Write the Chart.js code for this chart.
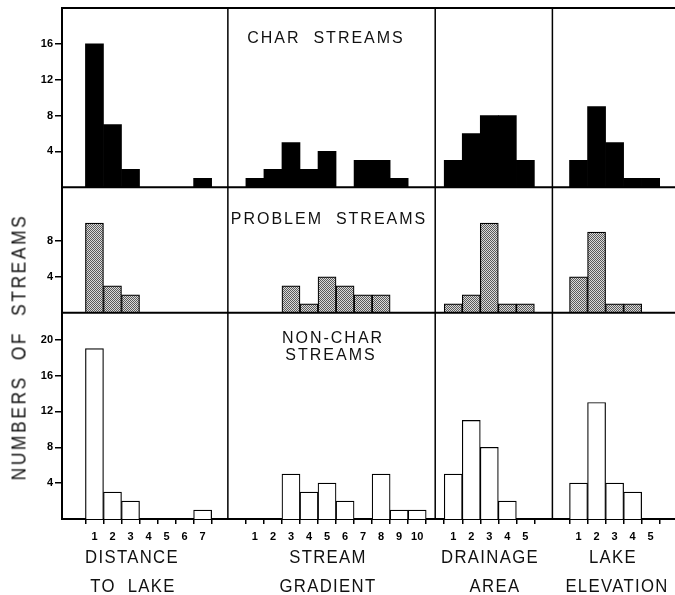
<!DOCTYPE html>
<html>
<head>
<meta charset="utf-8">
<script src="https://cdn.jsdelivr.net/npm/chart.js@4.4.1/dist/chart.umd.min.js"></script>
<style>
    html, body { margin: 0; padding: 0; background: #fff; }
    #wrap { position: relative; width: 675px; height: 595px; }
    #myChart { position: absolute; left: 0; top: 0; }
    .lbl {
        position: absolute;
        font-family: "Liberation Sans", Arial, sans-serif;
        color: #111;
        white-space: pre;
        transform: translate(-50%, -50%);
    }
    .panel { font-size: 16px; letter-spacing: 2px; }
    .title { font-size: 19px; letter-spacing: 1.5px; transform: translate(-50%, -50%) scaleX(0.88); }
    .ytitle { font-size: 20px; letter-spacing: 3px; transform: translate(-50%, -50%) rotate(-90deg) scaleX(0.87); }
</style>
</head>
<body>
<div id="wrap">
    <canvas id="myChart" width="675" height="595"></canvas>

    <div class="lbl panel" style="left:326px; top:38px;">CHAR  STREAMS</div>
    <div class="lbl panel" style="left:329px; top:219px;">PROBLEM  STREAMS</div>
    <div class="lbl panel" style="left:333px; top:338px;">NON-CHAR</div>
    <div class="lbl panel" style="left:331px; top:355px;">STREAMS</div>

    <div class="lbl title" style="left:132px; top:557px;">DISTANCE</div>
    <div class="lbl title" style="left:133px; top:586px;">TO  LAKE</div>
    <div class="lbl title" style="left:328px; top:557px;">STREAM</div>
    <div class="lbl title" style="left:328px; top:586px;">GRADIENT</div>
    <div class="lbl title" style="left:490px; top:557px;">DRAINAGE</div>
    <div class="lbl title" style="left:495px; top:586px;">AREA</div>
    <div class="lbl title" style="left:613px; top:557px;">LAKE</div>
    <div class="lbl title" style="left:617px; top:586px;">ELEVATION</div>

    <div class="lbl ytitle" style="left:19px; top:347px;">NUMBERS  OF  STREAMS</div>
</div>

<script>
// classes on the x axis (one list per column)
var distanceTicks = [1, 2, 3, 4, 5, 6, 7];
var gradientTicks = [1, 2, 3, 4, 5, 6, 7, 8, 9, 10];
var drainageTicks = [1, 2, 3, 4, 5];
var elevationTicks = [1, 2, 3, 4, 5];

// char streams
var charDistance = [16, 7, 2, 0, 0, 0, 1];
var charGradient = [1, 2, 5, 2, 4, 0, 3, 3, 1, 0];
var charDrainage = [3, 6, 8, 8, 3];
var charElevation = [3, 9, 5, 1, 1];

// problem streams
var problemDistance = [10, 3, 2, 0, 0, 0, 0];
var problemGradient = [0, 0, 3, 1, 4, 3, 2, 2, 0, 0];
var problemDrainage = [1, 2, 10, 1, 1];
var problemElevation = [4, 9, 1, 1, 0];

// non-char streams
var nonCharDistance = [19, 3, 2, 0, 0, 0, 1];
var nonCharGradient = [0, 0, 5, 3, 4, 2, 0, 5, 1, 1];
var nonCharDrainage = [5, 11, 8, 2, 0];
var nonCharElevation = [4, 13, 4, 3, 0];

// y tick labels per row
var charYTicks = [4, 8, 12, 16];
var problemYTicks = [4, 8];
var nonCharYTicks = [4, 8, 12, 16, 20];

// axis ranges
var colRanges = [[-0.8, 8.4], [-0.5, 11], [0, 6.5], [-0.45, 6.35]];
var rowMax = [20, 14, 23];

var colTicks = [distanceTicks, gradientTicks, drainageTicks, elevationTicks];
var rowTicks = [charYTicks, problemYTicks, nonCharYTicks];
var rows = [
    [charDistance, charGradient, charDrainage, charElevation],
    [problemDistance, problemGradient, problemDrainage, problemElevation],
    [nonCharDistance, nonCharGradient, nonCharDrainage, nonCharElevation]
];
var rowNames = ['Char streams', 'Problem streams', 'Non-char streams'];
var colNames = ['Distance to lake', 'Stream gradient', 'Drainage area', 'Lake elevation'];

// stippled fill for problem streams
var pc = document.createElement('canvas');
pc.width = 2; pc.height = 2;
var pctx = pc.getContext('2d');
pctx.fillStyle = '#dadada';
pctx.fillRect(0, 0, 2, 2);
pctx.fillStyle = '#5a5a5a';
pctx.fillRect(0, 0, 1, 1);
pctx.fillRect(1, 1, 1, 1);
var stipple = document.getElementById('myChart').getContext('2d').createPattern(pc, 'repeat');

var rowFill = ['#000', stipple, '#fff'];
var rowBorder = [0, 1.2, 1.2];

var datasets = [];
rows.forEach(function (row, r) {
    row.forEach(function (vals, c) {
        datasets.push({
            label: rowNames[r] + ' - ' + colNames[c],
            data: vals.map(function (v, i) { return { x: colTicks[c][i], y: v }; }),
            xAxisID: 'x' + c,
            yAxisID: 'y' + r,
            backgroundColor: rowFill[r],
            borderColor: '#000',
            borderWidth: rowBorder[r],
            barPercentage: 1,
            categoryPercentage: 1,
            grouped: false
        });
    });
});

var scales = {};
colRanges.forEach(function (rng, c) {
    scales['x' + c] = {
        type: 'linear',
        position: 'bottom',
        stack: 'cols',
        stackWeight: rng[1] - rng[0],
        min: rng[0],
        max: rng[1],
        offset: false,
        afterBuildTicks: function (s) { s.ticks = colTicks[c].map(function (v) { return { value: v }; }); },
        afterFit: function (s) { s.height = 76; s.paddingLeft = 0; s.paddingRight = 0; },
        grid: { offset: true, drawOnChartArea: false, tickLength: 5, color: '#000', lineWidth: 1.5 },
        border: { color: '#000', width: 2 },
        ticks: { color: '#000', font: { family: 'Liberation Sans', size: 11, weight: 'bold' }, padding: 6, autoSkip: false, maxRotation: 0 }
    };
});
// left boxes get stacked in reverse order, so add the bottom row first
for (var r = rowMax.length - 1; r >= 0; r--) {
    (function (r) {
        scales['y' + r] = {
            type: 'linear',
            position: 'left',
            stack: 'rows',
            stackWeight: rowMax[r],
            min: 0,
            max: rowMax[r],
            afterBuildTicks: function (s) { s.ticks = rowTicks[r].map(function (v) { return { value: v }; }); },
            afterFit: function (s) { s.width = 62; s.paddingTop = 0; s.paddingBottom = 0; },
            grid: { drawOnChartArea: false, tickLength: 7, color: '#000', lineWidth: 1.5 },
            border: { color: '#000', width: 2 },
            ticks: { color: '#000', font: { family: 'Liberation Sans', size: 11, weight: 'bold' }, padding: 2 }
        };
    })(r);
}

// frame lines between the panels
var panelLines = {
    id: 'panelLines',
    afterDatasetsDraw: function (chart) {
        var ctx = chart.ctx, a = chart.chartArea, s = chart.scales;
        ctx.save();
        ctx.strokeStyle = '#000';
        ctx.lineWidth = 2;
        ctx.beginPath();
        [a.top, s.y0.bottom, s.y1.bottom].forEach(function (y) { ctx.moveTo(a.left, y); ctx.lineTo(a.right, y); });
        ctx.stroke();
        ctx.lineWidth = 1.5;
        ctx.beginPath();
        [s.x0.right, s.x1.right, s.x2.right].forEach(function (x) { ctx.moveTo(x, a.top); ctx.lineTo(x, a.bottom); });
        ctx.stroke();
        ctx.restore();
    }
};

var ctx = document.getElementById('myChart').getContext('2d');
var myChart = new Chart(ctx, {
    type: 'bar',
    data: { datasets: datasets },
    options: {
        responsive: false,
        animation: false,
        layout: { padding: { top: 8, right: 0, left: 0, bottom: 0 } },
        plugins: { legend: { display: false }, tooltip: { enabled: false } },
        scales: scales
    },
    plugins: [panelLines]
});
</script>
</body>
</html>
